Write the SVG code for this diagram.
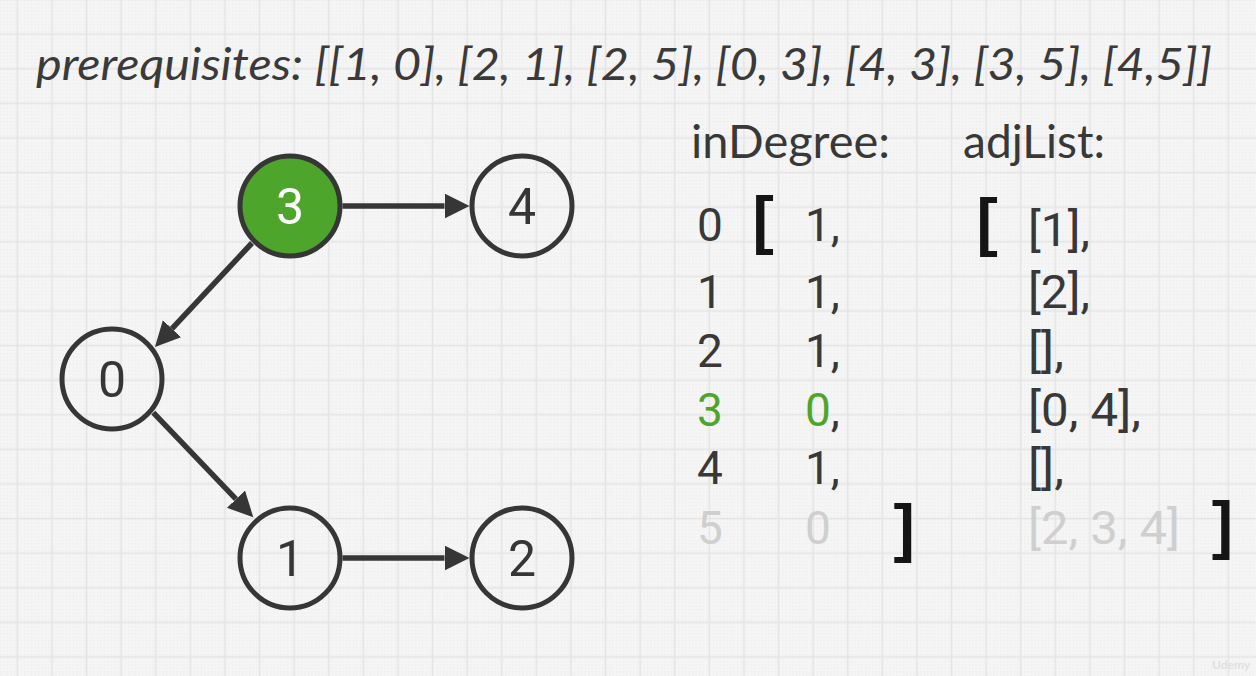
<svg xmlns="http://www.w3.org/2000/svg" width="1256" height="676" viewBox="0 0 1256 676">
  <defs>
    <pattern id="dots" patternUnits="userSpaceOnUse" width="3.46" height="3.46">
      <rect x="0" y="0" width="1.2" height="1.2" fill="#ebebeb"/>
    </pattern>
    <pattern id="grid" patternUnits="userSpaceOnUse" x="0" y="16.8" width="34.6" height="34.6">
      <path d="M17.3 0 V34.6 M0 17.3 H34.6" stroke="#e4e4e4" stroke-width="1.6" fill="none"/>
    </pattern>
    <marker id="arrow" markerUnits="userSpaceOnUse" markerWidth="26" markerHeight="26" refX="0" refY="12.5" orient="auto">
      <path d="M0,0 L25,12.5 L0,25 Z" fill="#363636"/>
    </marker>
    <style>
      .title { font-family: Lato, "Open Sans", sans-serif; font-style: italic; font-size: 44px; fill: #3a3a3a; }
      .head { font-family: Lato, "Open Sans", sans-serif; font-size: 46px; fill: #383838; }
      .num { font-family: Roboto, "Liberation Sans", sans-serif; font-weight: 400; font-size: 46px; fill: #383838; }
      .idx { text-anchor: middle; }
      .green { fill: #4ea52e; }
      .grey { fill: #cfcfcf; }
      .brk { font-family: "Liberation Sans", Arial, sans-serif; font-weight: bold; font-size: 64px; fill: #151515; }
      .node circle { stroke: #363636; stroke-width: 5; fill: none; }
      .node text { font-family: Roboto, "Liberation Sans", sans-serif; font-weight: 400; font-size: 50px; fill: #363636; text-anchor: middle; }
      .edge { stroke: #363636; stroke-width: 5.5; fill: none; marker-end: url(#arrow); }
    </style>
  </defs>

  <rect x="0" y="0" width="1256" height="676" fill="#f5f5f5"/>
  <rect x="0" y="0" width="1256" height="676" fill="url(#dots)"/>
  <rect x="0" y="0" width="1256" height="676" fill="url(#grid)"/>

  <text class="title" x="36" y="80" textLength="1176" lengthAdjust="spacingAndGlyphs">prerequisites: [[1, 0], [2, 1], [2, 5], [0, 3], [4, 3], [3, 5], [4,5]]</text>

  <g id="connectors">
    <line class="edge" x1="342.5" y1="206" x2="444.5" y2="206"/>
    <line class="edge" x1="342.5" y1="558" x2="444.5" y2="558"/>
    <line class="edge" x1="252" y1="243" x2="172" y2="328.7"/>
    <line class="edge" x1="153.3" y1="412.7" x2="236" y2="499.2"/>
  </g>

  <g id="node-3" class="node">
    <circle cx="290" cy="206" r="50" style="fill:#4ea52b"/>
    <text x="290" y="224" style="fill:#ffffff">3</text>
  </g>
  <g id="node-4" class="node">
    <circle cx="522" cy="206" r="50"/>
    <text x="522" y="224">4</text>
  </g>
  <g id="node-0" class="node">
    <circle cx="112" cy="379" r="50"/>
    <text x="112" y="397">0</text>
  </g>
  <g id="node-1" class="node">
    <circle cx="290" cy="558" r="50"/>
    <text x="290" y="576">1</text>
  </g>
  <g id="node-2" class="node">
    <circle cx="522" cy="558" r="50"/>
    <text x="522" y="576">2</text>
  </g>

  <g id="inDegree">
    <text class="head" x="691" y="158" textLength="199" lengthAdjust="spacingAndGlyphs">inDegree:</text>
    <text class="brk" x="752.5" y="241.7">[</text>
    <text class="brk" x="893.5" y="550">]</text>
    <text class="num idx" x="710" y="241">0</text>
    <text class="num idx" x="710" y="308">1</text>
    <text class="num idx" x="710" y="367">2</text>
    <text class="num idx green" x="710" y="426">3</text>
    <text class="num idx" x="710" y="484">4</text>
    <text class="num idx grey" x="710" y="544">5</text>
    <text class="num" x="805" y="241">1,</text>
    <text class="num" x="805" y="308">1,</text>
    <text class="num" x="805" y="367">1,</text>
    <text class="num" x="805" y="426"><tspan class="green">0</tspan>,</text>
    <text class="num" x="805" y="484">1,</text>
    <text class="num grey" x="805" y="544">0</text>
  </g>

  <g id="adjList">
    <text class="head" x="963" y="158" textLength="142" lengthAdjust="spacingAndGlyphs">adjList:</text>
    <text class="brk" x="976.5" y="243.9">[</text>
    <text class="brk" x="1211.8" y="546.7">]</text>
    <text class="num" x="1028" y="246" textLength="62" lengthAdjust="spacingAndGlyphs">[1],</text>
    <text class="num" x="1028" y="308" textLength="62" lengthAdjust="spacingAndGlyphs">[2],</text>
    <text class="num" x="1028" y="367" textLength="36" lengthAdjust="spacingAndGlyphs">[],</text>
    <text class="num" x="1028" y="426" textLength="113" lengthAdjust="spacingAndGlyphs">[0, 4],</text>
    <text class="num" x="1028" y="484" textLength="36" lengthAdjust="spacingAndGlyphs">[],</text>
    <text class="num grey" x="1028" y="544" textLength="152" lengthAdjust="spacingAndGlyphs">[2, 3, 4]</text>
  </g>

  <text x="1212" y="669" font-family="Lato, sans-serif" font-weight="bold" font-size="12" fill="#e0e0e0">Udemy</text>
</svg>
